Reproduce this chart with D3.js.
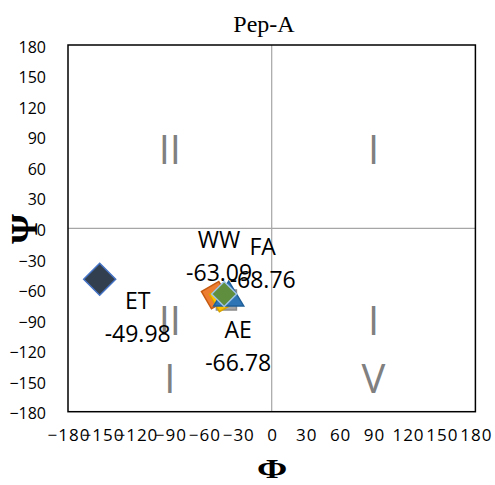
<!DOCTYPE html>
<html><head><meta charset="utf-8">
<script src="https://cdn.jsdelivr.net/npm/d3@7"></script>
<style>
body{margin:0;background:#fff;}
svg{display:block;}
</style>
</head><body>
<svg id="c" width="495" height="485"></svg>
<script>
// ---- data ----
const title = "Pep-A";
const xTicks = [-180,-150,-120,-90,-60,-30,0,30,60,90,120,150,180];
const yTicks = [-180,-150,-120,-90,-60,-30,0,30,60,90,120,150,180];
const seriesNames = ["ET","WW","S3","S4","FA","AE"];
const phiValues = [-152,-50,-43,-40,-38,-42];
const psiValues = [-49.98,-65.5,-68.4,-70.4,-66.5,-64.5];
const labelNames = ["ET","WW","","","FA","AE"];
const labelValues = ["-49.98","-63.09","","","-68.76","-66.78"];
const regionLabels = ["II","I","III","IV"];
const regionPhi = [-90,90,-90,90];
const regionPsi = [90,90,-90,-90];

// ---- styles / layout ----
const markerStyle = [
  {shape:"diamond", size:16, fill:"#323F4F", stroke:"#4472C4", rot:0},
  {shape:"square", size:10, fill:"#ED7D31", stroke:"#C55A11", rot:-30},
  {shape:"square", size:10, fill:"#FFC000", stroke:"#D9A300", rot:-30},
  {shape:"square", size:10, fill:"#A5A5A5", stroke:"#8C8C8C", rot:0},
  {shape:"triangle", size:15, fill:"#2E75B6", stroke:"#1F5F99", rot:0},
  {shape:"diamond", size:12.5, fill:"#5E8E3E", stroke:"#9DC3E6", rot:0}
];
const labelOffset = [[38,30],[4,-47],[0,0],[0,0],[34,-41],[14,44]];

const svg = d3.select("#c");
const L=68, R=475.4, T=45, B=411.7;
const x = d3.scaleLinear().domain([-180,180]).range([L,R]);
const y = d3.scaleLinear().domain([-180,180]).range([B,T]);
const tickFont = "'Open Sans', sans-serif";

// axis lines through zero
svg.append("line").attr("x1",x(0)).attr("x2",x(0)).attr("y1",T).attr("y2",B)
  .attr("stroke","#A6A6A6").attr("stroke-width",1.2);
svg.append("line").attr("x1",L).attr("x2",R).attr("y1",y(0)).attr("y2",y(0))
  .attr("stroke","#A6A6A6").attr("stroke-width",1.2);

// region labels (lower ones wrap onto two lines)
regionLabels.forEach((t,i)=>{
  const g = svg.append("text").attr("text-anchor","middle")
    .attr("font-family",tickFont).attr("font-size",40).attr("fill","#808080");
  const cx = x(regionPhi[i]);
  const cy = y(regionPsi[i]);
  if (regionPsi[i] > 0) {
    g.attr("x",cx).attr("y",cy+27).text(t);
  } else {
    g.append("tspan").attr("x",cx).attr("y",cy+15).text(t.slice(0,t.length-1));
    g.append("tspan").attr("x",cx).attr("y",cy+73).text(t.slice(t.length-1));
  }
});

// plot border
svg.append("rect").attr("x",L).attr("y",T).attr("width",R-L).attr("height",B-T)
  .attr("fill","none").attr("stroke","#000").attr("stroke-width",1.5);

// axes
const ya = d3.axisLeft(y).tickValues(yTicks).tickSize(0).tickPadding(22);
const yg = svg.append("g").attr("transform",`translate(${L},0)`).call(ya);
yg.select(".domain").remove();
yg.selectAll("text").attr("font-family",tickFont).attr("font-size",16).attr("fill","#000").attr("dy","0.45em");

const xa = d3.axisBottom(x).tickValues(xTicks).tickSize(0).tickPadding(17);
const xg = svg.append("g").attr("transform",`translate(0,${B})`).call(xa);
xg.select(".domain").remove();
xg.selectAll("text").attr("font-family",tickFont).attr("font-size",17)
  .attr("letter-spacing","1px").attr("dx","0.5px").attr("fill","#000");

// markers
function shapePath(s){
  const r=s.size;
  if(s.shape==="diamond") return `M0,${-r}L${r},0L0,${r}L${-r},0Z`;
  if(s.shape==="square") return `M${-r},${-r}H${r}V${r}H${-r}Z`;
  return `M0,${-r}L${r*1.0},${r*0.66}L${-r*1.0},${r*0.66}Z`;
}
const order=[0,1,3,2,4,5];
order.forEach(i=>{
  const s=markerStyle[i];
  svg.append("path").attr("d",shapePath(s))
    .attr("transform",`translate(${x(phiValues[i])},${y(psiValues[i])}) rotate(${s.rot})`)
    .attr("fill",s.fill).attr("stroke",s.stroke).attr("stroke-width",1.5);
});

// data labels
labelNames.forEach((n,i)=>{
  if(!n) return;
  const px = x(phiValues[i])+labelOffset[i][0];
  const py = y(psiValues[i])+labelOffset[i][1];
  const t = svg.append("text").attr("text-anchor","middle")
    .attr("font-family",tickFont).attr("font-size",23).attr("fill","#000");
  t.append("tspan").attr("x",px).attr("y",py).text(n);
  t.append("tspan").attr("x",px).attr("y",py+33).text(labelValues[i]);
});

// title
svg.append("text").attr("x",264).attr("y",32).attr("text-anchor","middle")
  .attr("font-family","'Liberation Serif', serif").attr("font-size",24).text(title);

// axis titles
svg.append("text").attr("text-anchor","middle")
  .attr("transform","translate(272,478) scale(1.35,1)")
  .attr("font-family","'Liberation Serif', serif").attr("font-weight","bold").attr("font-size",27).text("Φ");
svg.append("text").attr("text-anchor","middle")
  .attr("transform","translate(37,229) rotate(-90)")
  .attr("font-family","'Liberation Serif', serif").attr("font-weight","bold").attr("font-size",38).text("Ψ");
</script>
</body></html>
